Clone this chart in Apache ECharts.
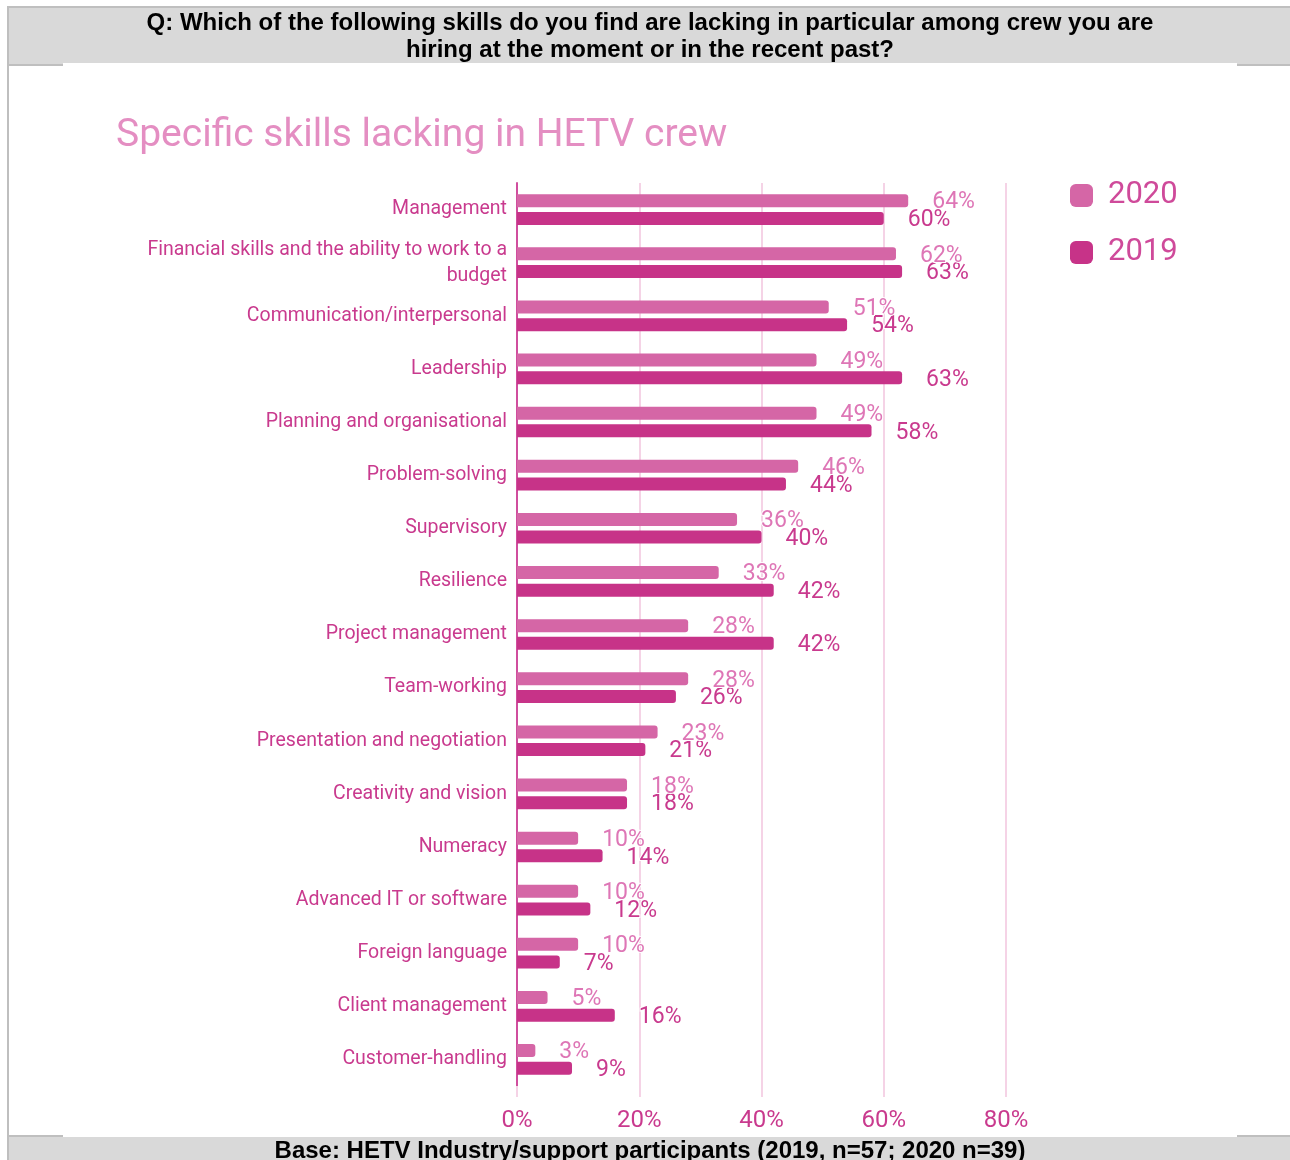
<!DOCTYPE html>
<html>
<head>
<meta charset="utf-8">
<script src="https://cdn.jsdelivr.net/npm/echarts@6/dist/echarts.min.js"></script>
<style>
html,body{margin:0;padding:0;background:#fff;}
#chart{width:1290px;height:1160px;}
</style>
</head>
<body>
<div id="chart"></div>
<script>
const categories = [
  'Management',
  'Financial skills and the ability to work to a budget',
  'Communication/interpersonal',
  'Leadership',
  'Planning and organisational',
  'Problem-solving',
  'Supervisory',
  'Resilience',
  'Project management',
  'Team-working',
  'Presentation and negotiation',
  'Creativity and vision',
  'Numeracy',
  'Advanced IT or software',
  'Foreign language',
  'Client management',
  'Customer-handling'
];
const values2020 = [64, 62, 51, 49, 49, 46, 36, 33, 28, 28, 23, 18, 10, 10, 10, 5, 3];
const values2019 = [60, 63, 54, 63, 58, 44, 40, 42, 42, 26, 21, 18, 14, 12, 7, 16, 9];
const xTicks = ['0%', '20%', '40%', '60%', '80%'];
const questionText = 'Q: Which of the following skills do you find are lacking in particular among crew you are\nhiring at the moment or in the recent past?';
const baseText = 'Base: HETV Industry/support participants (2019, n=57; 2020 n=39)';
const titleText = 'Specific skills lacking in HETV crew';

const chart = echarts.init(document.getElementById('chart'), null, {renderer: 'canvas'});

const c2020 = '#D566A6';
const c2019 = '#C73388';
const textPink = '#C93A8E';

function labelCfg(color) {
  return {
    show: true,
    position: 'right',
    distance: 24,
    offset: [0, 2],
    formatter: p => p.value + '%',
    fontFamily: 'Roboto',
    fontSize: 23,
    color: color,
    textBorderColor: '#fff',
    textBorderWidth: 2
  };
}

const option = {
  backgroundColor: '#fff',
  animation: false,
  textStyle: {fontFamily: 'Roboto'},
  title: {
    text: titleText,
    left: 111,
    top: 112,
    textStyle: {fontFamily: 'Roboto', fontSize: 39, fontWeight: 'normal', color: '#E48EC2'}
  },
  legend: {
    orient: 'vertical',
    left: 1065,
    top: 175,
    itemWidth: 23,
    itemHeight: 23,
    itemGap: 26,
    icon: 'roundRect',
    data: ['2020', '2019'],
    textStyle: {fontFamily: 'Roboto', fontSize: 31, color: '#CF4A9A', padding: [0, 0, 0, 10]}
  },
  grid: {left: 517, right: 284, top: 183, bottom: 74, containLabel: false},
  xAxis: {
    type: 'value',
    min: 0,
    max: 80,
    interval: 20,
    axisLine: {show: false},
    axisTick: {show: true, length: 11, lineStyle: {color: '#F5D3E6', width: 2}},
    splitLine: {show: true, lineStyle: {color: '#F5D3E6', width: 2}},
    axisLabel: {
      margin: 23,
      fontFamily: 'Roboto',
      fontSize: 24,
      color: textPink,
      formatter: v => xTicks[v / 20]
    }
  },
  yAxis: {
    type: 'category',
    inverse: true,
    data: categories,
    axisLine: {show: true, lineStyle: {color: '#D04E9E', width: 2}},
    axisTick: {show: false},
    axisLabel: {
      margin: 10,
      fontFamily: 'Roboto',
      fontSize: 19.5,
      lineHeight: 26,
      color: textPink,
      formatter: v => v.replace(' budget', '\nbudget')
    }
  },
  series: [
    {
      name: '2020',
      type: 'bar',
      data: values2020,
      barWidth: 13,
      barGap: '36%',
      itemStyle: {color: c2020, borderRadius: [0, 3, 3, 0]},
      label: labelCfg('#DE76B6'),
      z: 3
    },
    {
      name: '2019',
      type: 'bar',
      data: values2019,
      barWidth: 13,
      itemStyle: {color: c2019, borderRadius: [0, 3, 3, 0]},
      label: labelCfg(textPink),
      z: 2
    }
  ],
  graphic: [
    {type: 'rect', shape: {x: 8, y: 7, width: 1290, height: 58}, style: {fill: '#D9D9D9', stroke: '#BFBFBF', lineWidth: 2}, z: 1},
    {type: 'rect', shape: {x: 63, y: 63, width: 1174, height: 4}, style: {fill: '#fff'}, z: 2},
    {type: 'text', x: 650, y: 37, style: {text: questionText, fontFamily: 'Liberation Sans', fontWeight: 'bold', fontSize: 24, lineHeight: 27, fill: '#000', align: 'center', verticalAlign: 'middle'}, z: 3},
    {type: 'rect', shape: {x: 8, y: 1136, width: 1290, height: 40}, style: {fill: '#D9D9D9', stroke: '#BFBFBF', lineWidth: 2}, z: 1},
    {type: 'rect', shape: {x: 63, y: 1134, width: 1174, height: 3}, style: {fill: '#fff'}, z: 2},
    {type: 'line', shape: {x1: 8, y1: 7, x2: 8, y2: 1160}, style: {stroke: '#BFBFBF', lineWidth: 2}, z: 3},
    {type: 'text', x: 650, y: 1151, style: {text: baseText, fontFamily: 'Liberation Sans', fontWeight: 'bold', fontSize: 24, fill: '#000', align: 'center', verticalAlign: 'middle'}, z: 3}
  ]
};

chart.setOption(option);
</script>
</body>
</html>
